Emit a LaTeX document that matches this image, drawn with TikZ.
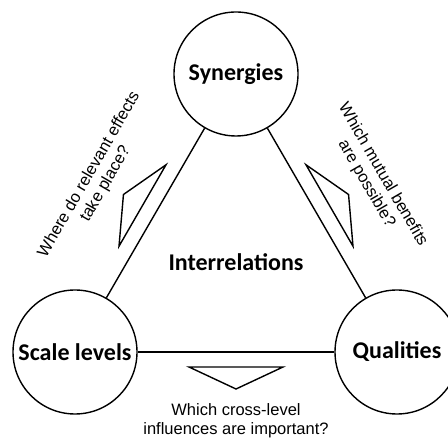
\documentclass[tikz,border=0pt]{standalone}
\usepackage{fontspec}
\setmainfont{Liberation Sans}
\newfontfamily\calib{Carlito}
\usetikzlibrary{calc}
\begin{document}
\begin{tikzpicture}[x=1bp,y=1bp,
  hub/.style={circle,draw,line width=1.4bp,minimum size=124bp,inner sep=0pt,
    font=\calib\bfseries\fontsize{24bp}{28bp}\selectfont},
  link/.style={line width=1.4bp},
  wedge/.style={line width=1.4bp, line join=miter},
  question/.style={font=\fontsize{16.5bp}{19bp}\selectfont, align=center, inner sep=0pt}]
\useasboundingbox (0,0) rectangle (448,438);
\node[hub] (s) at (236,364) {Synergies};
\node[hub] (l) at (75,86) {Scale levels};
\node[hub] (q) at (397,86) {Qualities};
\draw[link] (s) -- (l);
\draw[link] (s) -- (q);
\draw[link] (l) -- (q);
\node[font=\calib\bfseries\fontsize{24bp}{28bp}\selectfont] (i) at (236,176) {Interrelations};
\coordinate (ml) at ($(l)!0.5!(s)$);
\coordinate (mr) at ($(s)!0.5!(q)$);
\coordinate (mb) at ($(l)!0.5!(q)$);
\begin{scope}[shift={(ml)}, rotate=60]
  \draw[wedge] (-47,15) -- (47,15) -- (0,37) -- cycle;
  \coordinate (pl) at (0,67);
\end{scope}
\begin{scope}[shift={(mr)}, rotate=-60]
  \draw[wedge] (-47,15) -- (47,15) -- (0,37) -- cycle;
  \coordinate (pr) at (0,67);
\end{scope}
\begin{scope}[shift={(mb)}]
  \draw[wedge] (-47,-15) -- (47,-15) -- (0,-37) -- cycle;
  \coordinate (pb) at (0,-69);
\end{scope}
\node[question, rotate=60] (tl) at (pl) {Where do relevant effects\\take place?};
\node[question, rotate=-60] (tr) at (pr) {Which mutual benefits\\are possible?};
\node[question] (tb) at (pb) {Which cross-level\\influences are important?};
\end{tikzpicture}
\end{document}
